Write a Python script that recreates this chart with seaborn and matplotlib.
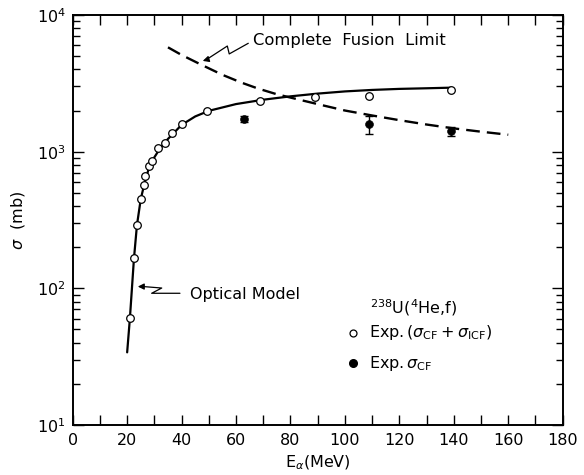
import numpy as np
import pandas as pd
import matplotlib
matplotlib.use("Agg")
import matplotlib.pyplot as plt
import seaborn as sns
from matplotlib.ticker import LogLocator, MultipleLocator, LogFormatterMathtext, NullFormatter

# ---- data ----
exp_tot_E = [21.2, 22.5, 23.6, 25.0, 26.2, 26.7, 28.0, 29.0, 31.4, 33.9, 36.5, 40.3, 49.2, 68.9, 88.9, 109.0, 139.0]
exp_tot_sigma = [61, 166, 291, 451, 570, 667, 785, 855, 1059, 1165, 1365, 1604, 1996, 2361, 2512, 2553, 2846]

exp_cf_E = [62.8, 109.0, 139.0]
exp_cf_sigma = [1726, 1596, 1416]
exp_cf_err_lo = [90, 247, 107]
exp_cf_err_hi = [90, 236, 108]

optical_E = [20.0, 21.0, 22.5, 23.6, 25.0, 26.5, 28.0, 30.0, 32.0, 35.0, 40.0, 45.0, 50.0,
             60.0, 70.0, 80.0, 90.0, 100.0, 110.0, 120.0, 130.0, 139.0]
optical_sigma = [34, 60, 165, 290, 450, 600, 760, 910, 1050, 1240, 1570, 1810, 1990,
                 2230, 2400, 2540, 2660, 2760, 2830, 2880, 2910, 2940]

cfl_E = [35, 40, 47, 55, 62, 68, 75, 84, 92, 100, 110, 120, 130, 140, 150, 160]
cfl_sigma = [5800, 5100, 4350, 3650, 3200, 2900, 2630, 2380, 2180, 2000, 1840, 1700, 1580, 1480, 1400, 1330]

xticks = [0, 20, 40, 60, 80, 100, 120, 140, 160, 180]

# ---- style ----
sns.set_style("ticks")
plt.rcParams["font.family"] = ["DejaVu Sans"]
plt.rcParams["mathtext.fontset"] = "dejavusans"
plt.rcParams["axes.linewidth"] = 1.4
plt.rcParams["text.color"] = "black"
plt.rcParams["axes.labelcolor"] = "black"
plt.rcParams["xtick.color"] = "black"
plt.rcParams["ytick.color"] = "black"

fig = plt.figure(figsize=(5.84, 4.75), dpi=100)
ax = fig.add_axes([0.1245, 0.1053, 0.839, 0.8631])

opt_df = pd.DataFrame({"E": optical_E, "sigma": optical_sigma})
cfl_df = pd.DataFrame({"E": cfl_E, "sigma": cfl_sigma})
tot_df = pd.DataFrame({"E": exp_tot_E, "sigma": exp_tot_sigma})
cf_df = pd.DataFrame({"E": exp_cf_E, "sigma": exp_cf_sigma})

sns.lineplot(data=opt_df, x="E", y="sigma", ax=ax, color="black", lw=1.6,
             sort=False, estimator=None, zorder=2)
sns.lineplot(data=cfl_df, x="E", y="sigma", ax=ax, color="black", lw=1.7,
             sort=False, estimator=None, zorder=2, dashes=False)
ax.lines[-1].set_dashes([5.8, 3.0])

sns.scatterplot(data=tot_df, x="E", y="sigma", ax=ax, marker="o", s=30,
                facecolor="white", edgecolor="black", linewidth=0.9, zorder=4)
ax.errorbar(exp_cf_E, exp_cf_sigma, yerr=[exp_cf_err_lo, exp_cf_err_hi], fmt="none",
            ecolor="black", elinewidth=1.0, capsize=3, capthick=1.0, zorder=3)
sns.scatterplot(data=cf_df, x="E", y="sigma", ax=ax, marker="o", s=32,
                color="black", edgecolor="black", zorder=5)

ax.set_yscale("log")
ax.set_xlim(0, 180)
ax.set_ylim(10, 1e4)

ax.xaxis.set_major_locator(MultipleLocator(20))
ax.xaxis.set_minor_locator(MultipleLocator(10))
ax.yaxis.set_major_locator(LogLocator(base=10, numticks=10))
ax.yaxis.set_minor_locator(LogLocator(base=10, subs=np.arange(2, 10), numticks=20))
ax.yaxis.set_major_formatter(LogFormatterMathtext())
ax.yaxis.set_minor_formatter(NullFormatter())
ax.set_xticks(xticks)

ax.tick_params(which="both", direction="in", top=True, right=True, width=1.0,
               labelsize=11.5, colors="black")
ax.tick_params(axis="x", which="both", length=7, pad=6)
ax.tick_params(axis="y", which="major", length=8, pad=5)
ax.tick_params(axis="y", which="minor", length=5)
for sp in ax.spines.values():
    sp.set_visible(True)
    sp.set_color("black")

ax.set_xlabel(r"E$_\alpha$(MeV)", fontsize=11.5, labelpad=4)
ax.set_ylabel(r"$\sigma$  (mb)", fontsize=11.5, labelpad=7)

# annotations
ax.plot([64.5, 57.5, 56.8, 49.0], [6210, 5190, 5930, 4700], color="black", lw=0.9)
ax.annotate("", xy=(46.8, 4550), xytext=(49.5, 4730),
            arrowprops=dict(arrowstyle="-|>", color="black", lw=0.9, mutation_scale=9))
ax.text(66.2, 6560, "Complete  Fusion  Limit", fontsize=11.8, va="center", ha="left")

ax.plot([26.0, 32.7, 29.0, 39.4], [103, 100.5, 92, 92], color="black", lw=0.9)
ax.annotate("", xy=(22.9, 103), xytext=(26.5, 103),
            arrowprops=dict(arrowstyle="-|>", color="black", lw=0.9, mutation_scale=9))
ax.text(43.2, 90, "Optical Model", fontsize=11.5, va="center", ha="left")

ax.text(109.2, 72, r"$^{238}$U($^{4}$He,f)", fontsize=11.5, va="center", ha="left")
ax.plot([103.0], [47.2], marker="o", ms=5, mfc="white", mec="black", mew=0.9, ls="none")
ax.text(108.9, 47.2, r"Exp.$\,(\sigma_{\rm CF}+\sigma_{\rm ICF})$", fontsize=11.5,
        va="center", ha="left")
ax.plot([103.0], [28.3], marker="o", ms=5.5, color="black", ls="none")
ax.text(108.9, 28.3, r"Exp.$\,\sigma_{\rm CF}$", fontsize=11.5, va="center", ha="left")

fig.savefig("out.png", dpi=100)
